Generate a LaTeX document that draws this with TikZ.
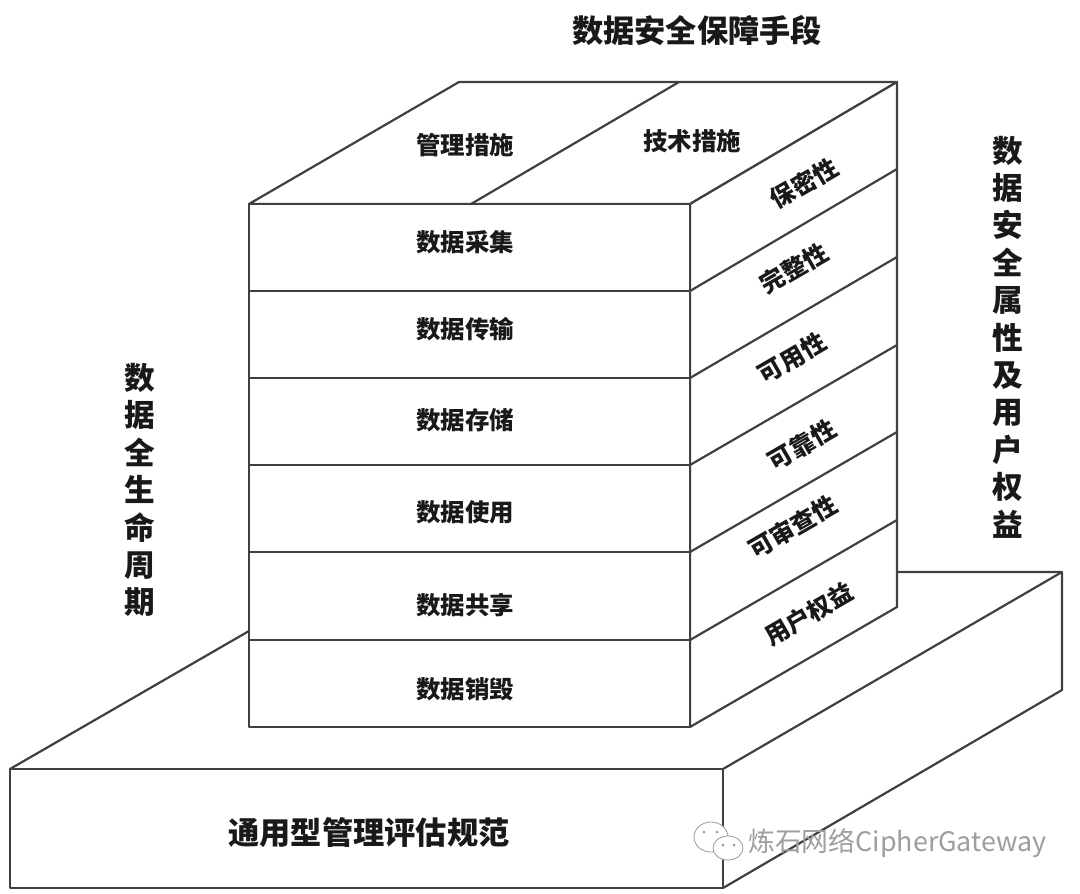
\documentclass[tikz,border=0pt]{standalone}
\usepackage{fontspec}
\setmainfont{Noto Sans CJK SC}
\usetikzlibrary{calc,positioning}
\tikzset{
  edge/.style={draw=black!75, line width=0.55mm, line join=round},
  face/.style={edge, fill=white},
  lbl/.style={inner sep=0pt, font=\fontsize{17.4}{17.4}\selectfont\bfseries, text=black!90},
  sidelbl/.style={lbl, rotate=30},
  biglbl/.style={inner sep=0pt, font=\fontsize{22.2}{22.2}\selectfont\bfseries, text=black!90},
  collbl/.style={biglbl, align=center, font=\fontsize{21.8}{26.6}\selectfont\bfseries},
  wmark/.style={draw=black!40, fill=white, line width=0.2mm},
  wmarktxt/.style={inner sep=0pt, font=\fontsize{19.1}{19.1}\selectfont, text=black!38}
}
\begin{document}
\begin{tikzpicture}[x=0.25mm,y=-0.25mm]
  \useasboundingbox[fill=white] (0,0) rectangle (1080,894);
  % base slab
  \draw[edge] (10,769) -- (249,631);
  \draw[edge] (897,572) -- (1062,572) -- (1062,690) -- (723,888);
  \draw[edge] (723,769) -- (1062,572);
  \draw[face] (10,769) rectangle (723,888);
  % stack, top face
  \coordinate (topl) at (249,204);
  \coordinate (topr) at (690,204);
  \draw[face] (topl) -- (459,82) -- (897,82) -- (topr) -- cycle;
  \draw[edge] (679,82) -- (471,204);
  % stack, side face
  \draw[face] (topr) -- (897,82) -- (897,607) -- (690,727) -- cycle;
  \foreach \ya/\yb in {291/169,378/257,465/345,552/432,640/520}
    \draw[edge] (690,\ya) -- (897,\yb);
  % stack, front face
  \draw[face] (topl) rectangle (690,727);
  \foreach \ya in {291,378,465,552,640}
    \draw[edge] (249,\ya) -- (690,\ya);
  % top labels
  \node[lbl] (mgmt) at (465,145) {管理措施};
  \node[lbl] (tech) at (692,141) {技术措施};
  % front labels
  \node[lbl] (collect) at (465,242) {数据采集};
  \node[lbl] (transfer) at (465,329) {数据传输};
  \node[lbl] (store) at (465,420) {数据存储};
  \node[lbl] (use) at (465,512) {数据使用};
  \node[lbl] (share) at (465,605) {数据共享};
  \node[lbl] (destroy) at (465,689) {数据销毁};
  % side labels
  \node[sidelbl] (secret) at (804,183) {保密性};
  \node[sidelbl] (whole) at (794,268) {完整性};
  \node[sidelbl] (avail) at (792,358) {可用性};
  \node[sidelbl] (rely) at (802,445) {可靠性};
  \node[sidelbl] (audit) at (793,527) {可审查性};
  \node[sidelbl] (rights) at (809,614) {用户权益};
  % outer titles
  \node[biglbl] (means) at (697,31) {数据安全保障手段};
  \node[biglbl] (spec) at (369,833) {通用型管理评估规范};
  \node[collbl] (life) at (140,490) {数\\据\\全\\生\\命\\周\\期};
  \node[collbl] (attr) at (1008,337) {数\\据\\安\\全\\属\\性\\及\\用\\户\\权\\益};
  % watermark
  \draw[wmark] (711,837) ellipse (17 and 15);
  \draw[wmark] (728,848) ellipse (15 and 12);
  \fill[black!40] (704,832) circle (1.5) (717,832) circle (1.5) (723,845) circle (1.5) (734,845) circle (1.5);
  \node[wmarktxt, anchor=west] (wm) at (748,843) {炼石网络CipherGateway};
\end{tikzpicture}
\end{document}
